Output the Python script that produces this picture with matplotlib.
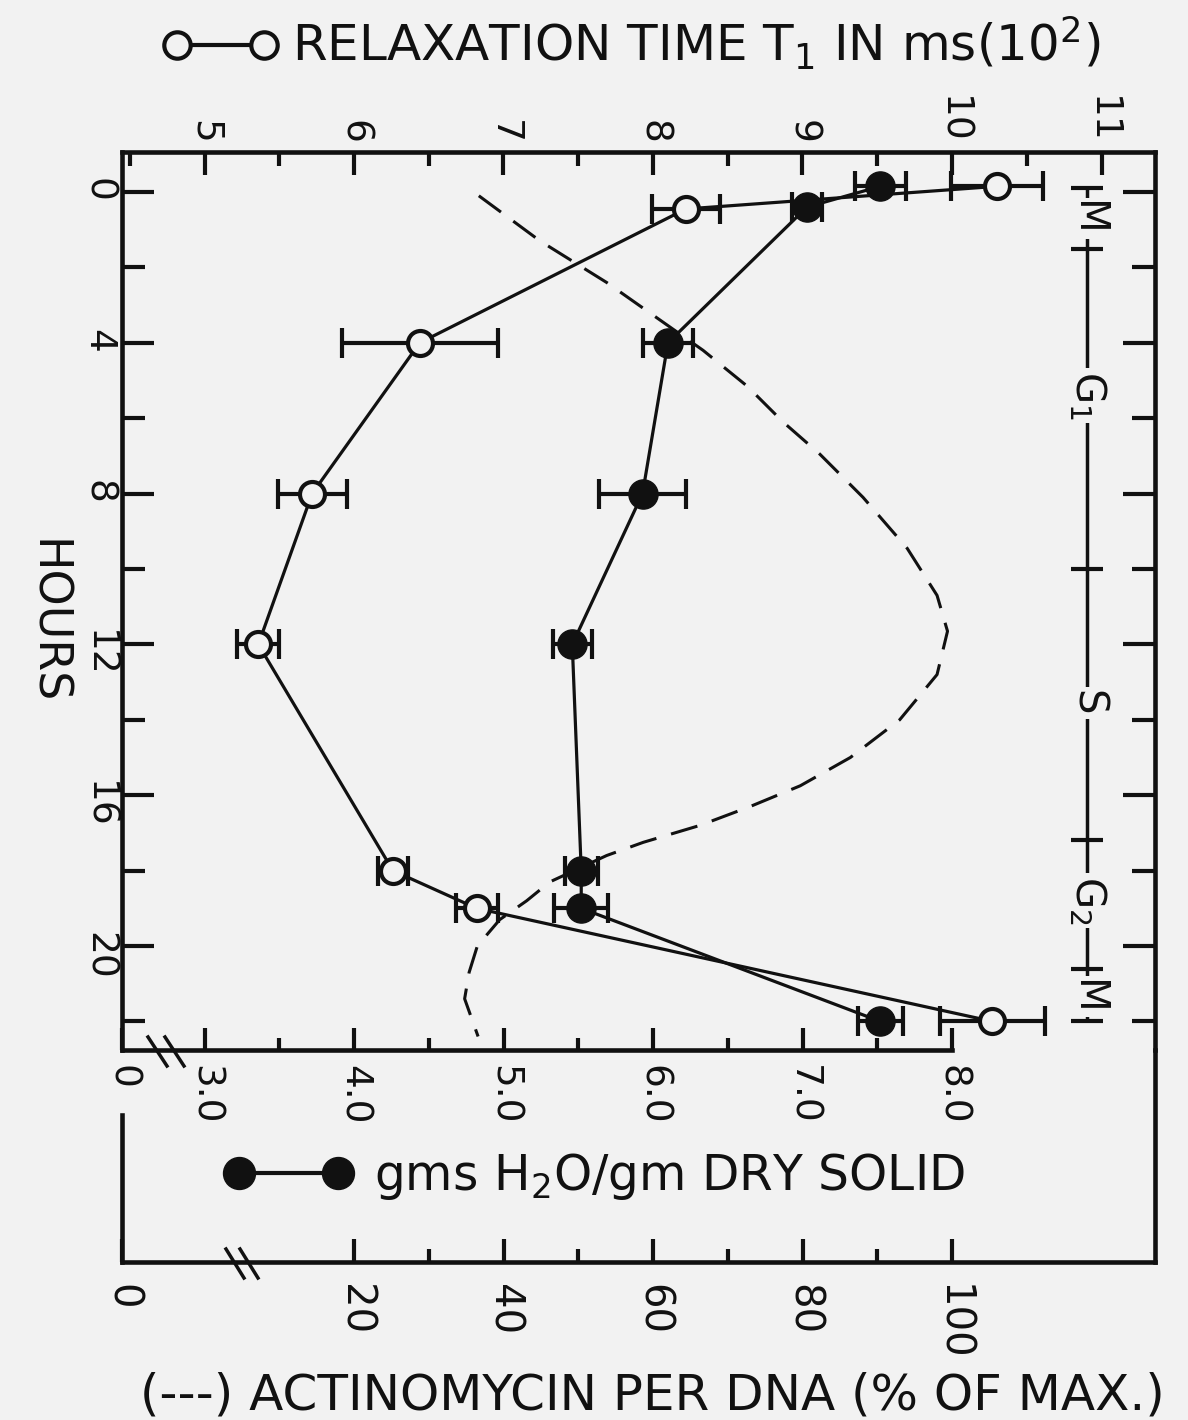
import matplotlib
matplotlib.use('Agg')
import matplotlib.pyplot as plt
from matplotlib.lines import Line2D
from matplotlib.ticker import MultipleLocator, FixedLocator

# relaxation time T1 (ms x 10^2), open circles
t1_hours = [-0.15, 0.45, 4, 8, 12, 18, 19, 22]
t1_ms = [10.30, 8.22, 6.44, 5.72, 5.36, 6.26, 6.82, 10.27]
t1_err = [0.31, 0.23, 0.52, 0.23, 0.14, 0.10, 0.14, 0.35]

# gms H2O / gm dry solid, filled circles
water_hours = [-0.15, 0.4, 4, 8, 12, 18, 19, 22]
water = [7.52, 7.03, 6.10, 5.93, 5.46, 5.52, 5.52, 7.52]
water_err = [0.17, 0.10, 0.17, 0.29, 0.13, 0.11, 0.18, 0.15]

# actinomycin per DNA (% of max), dashed curve
act_hours = [0.1, 1.3, 2.4, 4.2, 5.15, 6.1, 6.95, 8.1, 9.45, 10.7, 11.65, 12.8,
             14.0, 15.0, 15.75, 16.3, 16.8, 17.25, 17.6, 18.3, 18.8, 19.3,
             20.0, 20.7, 21.4, 22.4]
act_pct = [36.7, 44.9, 53.8, 66.7, 72.6, 77.4, 82.3, 88.1, 94.0, 98.0, 99.4, 98.0,
           93.0, 86.4, 79.7, 73.0, 66.3, 58.7, 53.8, 46.2, 43.1, 39.5,
           36.5, 35.4, 34.8, 36.6]

# cell cycle phases
phase_bounds = [-0.1, 1.5, 10.0, 17.2, 20.6, 22.0]
phase_names = ['M', 'G$_1$', 'S', 'G$_2$', 'M']
phase_mid = [0.7, 5.4, 13.55, 18.8, 21.35]

hour_ticks = [0, 4, 8, 12, 16, 20]
water_ticks = [3.0, 4.0, 5.0, 6.0, 7.0, 8.0]
t1_ticks = [5, 6, 7, 8, 9, 10, 11]
act_ticks = [20, 40, 60, 80, 100]

W, H = 1188, 1420
bg = '#f2f2f2'
ink = '#111111'

plt.rcParams['font.family'] = ['DejaVu Sans']
plt.rcParams['mathtext.fontset'] = 'dejavusans'
plt.rcParams['text.color'] = ink
plt.rcParams['axes.edgecolor'] = ink
plt.rcParams['xtick.color'] = ink
plt.rcParams['ytick.color'] = ink

fig = plt.figure(figsize=(W / 100, H / 100), dpi=100, facecolor=bg)

def frac(x0, y0, x1, y1):
    return [x0 / W, 1 - y1 / H, (x1 - x0) / W, (y1 - y0) / H]

# gms scale: 3.0 at x=204.5px, 149.5 px per unit
g_lo = 3 + (122 - 204.5) / 149.5
g_hi = 3 + (1155 - 204.5) / 149.5
h_top = (152 - 192) / 37.7
h_bot = (1050 - 192) / 37.7

ax = fig.add_axes(frac(122, 152, 1155, 1050))
ax_act = ax.twiny()
ax_t1 = ax.twiny()
for a in (ax, ax_act, ax_t1):
    a.patch.set_visible(False)
ax_act.set_zorder(1)
ax.set_zorder(2)
ax_t1.set_zorder(3)

ax.set_xlim(g_lo, g_hi)
ax.set_ylim(h_bot, h_top)
ax_t1.set_xlim(g_lo + 2, g_hi + 2)
ax_act.set_xlim(20 * (g_lo - 3), 20 * (g_hi - 3))

lw_frame = 3.3
for s in ax.spines.values():
    s.set_linewidth(lw_frame)
ax.spines['top'].set_visible(False)
ax.spines['bottom'].set_bounds(g_lo, 8.0)
for s in ax_act.spines.values():
    s.set_visible(False)
for name, s in ax_t1.spines.items():
    s.set_visible(name == 'top')
    s.set_linewidth(lw_frame)
ax_act.set_xticks([])

# hours axis
ax.yaxis.set_major_locator(FixedLocator(hour_ticks))
ax.yaxis.set_minor_locator(FixedLocator([2, 6, 10, 14, 18, 22]))
ax.set_yticklabels([str(h) for h in hour_ticks])
ax.tick_params(axis='y', which='both', direction='in', left=True, right=True,
               labelleft=True, labelright=False, width=3, labelsize=27,
               labelrotation=-90, pad=4)
ax.tick_params(axis='y', which='major', length=23)
ax.tick_params(axis='y', which='minor', length=16.5)

# water axis (bottom of main panel)
ax.xaxis.set_major_locator(FixedLocator([g_lo] + water_ticks))
ax.set_xticklabels(['0'] + ['%.1f' % v for v in water_ticks])
ax.xaxis.set_minor_locator(FixedLocator([3.5, 4.5, 5.5, 6.5, 7.5]))
ax.tick_params(axis='x', which='both', direction='in', width=3, labelsize=27,
               labelrotation=-90, pad=11)
ax.tick_params(axis='x', which='major', length=16)
ax.tick_params(axis='x', which='minor', length=8.5)

# T1 axis (top)
ax_t1.xaxis.set_major_locator(FixedLocator(t1_ticks))
ax_t1.set_xticklabels([str(v) for v in t1_ticks])
ax_t1.xaxis.set_minor_locator(MultipleLocator(0.5))
ax_t1.tick_params(axis='x', which='both', direction='in', width=3, labelsize=27,
                  labelrotation=-90, pad=6)
ax_t1.tick_params(axis='x', which='major', length=16.5)
ax_t1.tick_params(axis='x', which='minor', length=10)

# data
ax_act.plot(act_pct, act_hours, color=ink, lw=2.2, dashes=(9, 5))
ax.errorbar(water, water_hours, xerr=water_err, fmt='-o', color=ink, lw=2.3,
            ms=21, mfc=ink, mec=ink, elinewidth=3, capsize=11, capthick=3)
ax_t1.errorbar(t1_ms, t1_hours, xerr=t1_err, fmt='-o', color=ink, lw=2.3,
               ms=18, mfc=bg, mec=ink, mew=3, elinewidth=3, capsize=11,
               capthick=3)

# cell cycle bar
cx = 3 + (1087 - 204.5) / 149.5
ax.vlines(cx, phase_bounds[0], phase_bounds[-1], color=ink, lw=2.5)
ax.hlines(phase_bounds, cx - 0.104, cx + 0.104, color=ink, lw=3)
for name, m in zip(phase_names, phase_mid):
    ax.text(cx, m, name, rotation=-90, ha='center', va='center', fontsize=29,
            bbox=dict(boxstyle='square,pad=0.08', fc=bg, ec='none'))

# break marks on water axis
for xa, xb in [(148, 167), (165, 184)]:
    fig.add_artist(Line2D([xa / W, xb / W], [1 - 1037 / H, 1 - 1066 / H],
                          transform=fig.transFigure, color=ink, lw=2.5))

# lower panel: actinomycin axis
bx = fig.add_axes(frac(122, 1050, 1155, 1262))
bx.patch.set_visible(False)
bx.set_xlim(20 * (g_lo - 3), 20 * (g_hi - 3))
bx.set_ylim(0, 1)
bx.set_yticks([])
bx.spines['top'].set_visible(False)
for s in bx.spines.values():
    s.set_linewidth(lw_frame)
bx.spines['left'].set_bounds(0, (1262 - 1115) / 212)
bx.xaxis.set_major_locator(FixedLocator([20 * (g_lo - 3)] + act_ticks))
bx.set_xticklabels(['0'] + [str(v) for v in act_ticks])
bx.xaxis.set_minor_locator(FixedLocator([30, 50, 70, 90]))
bx.tick_params(axis='x', which='both', direction='in', width=3, labelsize=29,
               labelrotation=-90, pad=16)
bx.tick_params(axis='x', which='major', length=16.5)
bx.tick_params(axis='x', which='minor', length=9.5)

for xa, xb in [(226, 244), (240, 258)]:
    fig.add_artist(Line2D([xa / W, xb / W], [1 - 1249 / H, 1 - 1278 / H],
                          transform=fig.transFigure, color=ink, lw=2.5))

# titles and legend keys
fig.add_artist(Line2D([177 / W, 264 / W], [1 - 45 / H] * 2, transform=fig.transFigure,
                      color=ink, lw=3, marker='o', ms=19, mfc=bg, mec=ink, mew=3))
fig.text(292 / W, 1 - 62 / H, 'RELAXATION TIME T$_1$ IN ms(10$^2$)', fontsize=36,
         ha='left', va='baseline')

fig.add_artist(Line2D([239 / W, 338 / W], [1 - 1173 / H] * 2, transform=fig.transFigure,
                      color=ink, lw=3, marker='o', ms=23, mfc=ink, mec=ink))
fig.text(374 / W, 1 - 1190 / H, 'gms H$_2$O/gm DRY SOLID', fontsize=35,
         ha='left', va='baseline')

fig.text(140 / W, 1 - 1410 / H, '(---) ACTINOMYCIN PER DNA (% OF MAX.)', fontsize=36,
         ha='left', va='baseline')

fig.text(46 / W, 1 - 622 / H, 'HOURS', fontsize=33, rotation=-90,
         ha='center', va='center')

fig.savefig('out.png', dpi=100, facecolor=bg)
